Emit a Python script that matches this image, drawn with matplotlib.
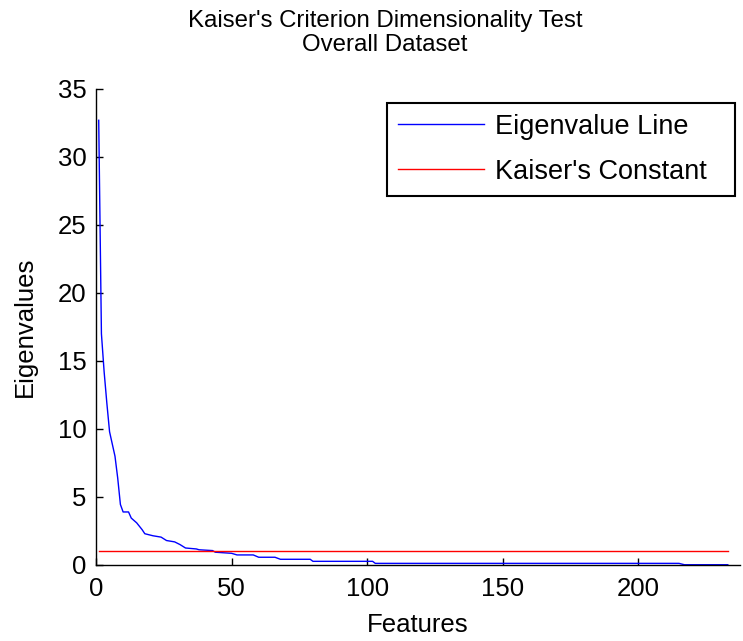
import matplotlib
matplotlib.use("Agg")
import matplotlib.pyplot as plt

# Eigenvalue breakpoints (feature index, eigenvalue).
features = [1, 2, 3, 4, 5, 6, 7, 8, 9, 10, 12, 13, 15, 17, 18, 21, 24, 26,
            29, 31, 33, 37, 38, 43, 44, 50, 52, 58, 60, 66, 68, 79, 80, 102,
            103, 215, 217, 233]
eigenvalues = [32.7, 17.0, 14.2, 11.9, 9.8, 8.9, 8.0, 6.4, 4.45, 3.9, 3.9,
               3.45, 3.1, 2.6, 2.3, 2.15, 2.05, 1.8, 1.7, 1.5, 1.25, 1.18,
               1.12, 1.06, 0.94, 0.86, 0.74, 0.74, 0.57, 0.57, 0.42, 0.42,
               0.27, 0.27, 0.12, 0.12, 0.02, 0.02]
kaiser_x = [1, 233]
kaiser_y = [1, 1]

xticks = [0, 50, 100, 150, 200]
yticks = [0, 5, 10, 15, 20, 25, 30, 35]

plt.rcParams["font.family"] = ["Liberation Sans", "DejaVu Sans"]

fig = plt.figure(figsize=(7.43, 6.41), dpi=100)
ax = fig.add_axes([96 / 743, 76 / 641, 644 / 743, 476 / 641])

ax.plot(features, eigenvalues, color="#0000ff", lw=1.0, label="Eigenvalue Line")
ax.plot(kaiser_x, kaiser_y, color="#ff0000", lw=1.0, label="Kaiser's Constant")

ax.set_xlim(0, 237.5)
ax.set_ylim(0, 35)
ax.set_xticks(xticks)
ax.set_yticks(yticks)
ax.tick_params(direction="in", length=5, width=1, labelsize=18.5, pad=7,
               top=False, right=False)
ax.tick_params(axis="x", pad=9)
for side in ["top", "right"]:
    ax.spines[side].set_visible(False)
for side in ["left", "bottom"]:
    ax.spines[side].set_linewidth(1.0)

ax.set_xlabel("Features", fontsize=18.5, labelpad=8)
ax.set_ylabel("Eigenvalues", fontsize=18.5, labelpad=15)

fig.text(385 / 743, 1 - 10 / 641,
         "Kaiser's Criterion Dimensionality Test\nOverall Dataset",
         ha="center", va="top", fontsize=17.3, linespacing=1.1)

# legend box spans the same region as in the picture
leg = ax.legend(loc="upper left",
                bbox_to_anchor=(387 / 743, (641 - 195) / 641, 348 / 743, 92 / 641),
                bbox_transform=fig.transFigure, mode="expand", fontsize=19.5,
                fancybox=False, framealpha=1, edgecolor="black",
                handlelength=3.2, handletextpad=0.4, borderpad=0.4,
                labelspacing=0.7, borderaxespad=0)
leg._legend_box.align = "left"
leg.get_frame().set_linewidth(1.5)

fig.savefig("out.png", dpi=100)
